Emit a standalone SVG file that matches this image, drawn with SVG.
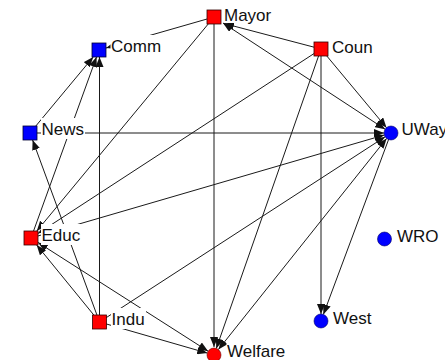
<svg xmlns="http://www.w3.org/2000/svg" width="445" height="360" viewBox="0 0 445 360">
<style>
.e{stroke:#1a1a1a;stroke-width:1;fill:none;marker-end:url(#arr)}
.b{marker-start:url(#arr)}
.r{fill:#ff0000;stroke:#300;stroke-width:0.8}
.bl{fill:#0000ff;stroke:#003;stroke-width:0.8}
.c{fill:#0000ff;stroke:#000060;stroke-width:0.6}
.cr{fill:#ff0000;stroke:#600;stroke-width:0.6}
.bg{fill:#fff}
text{font-family:"Liberation Sans",Arial,sans-serif;font-size:17px;fill:#111}
</style>
<defs>
<marker id="arr" viewBox="0 0 10 8" refX="10" refY="4" markerWidth="10" markerHeight="8" markerUnits="userSpaceOnUse" orient="auto-start-reverse">
<path d="M0,0 L10,4 L0,8 z" fill="#111"/>
</marker>
</defs>
<rect width="445" height="360" fill="#fff"/>
<g id="connectors">
<path class="e" d="M214 17 L214 347"/>
<path class="e" d="M214 17 L36.8 231"/>
<path class="e" d="M214 17 L106 48"/>
<path class="e" d="M321 49 L224 23.5"/>
<path class="e b" d="M223 23 L385.1 129.2"/>
<path class="e" d="M321 49 L386.5 127.7"/>
<path class="e" d="M321 49 L38 233.4"/>
<path class="e" d="M321 49 L216.3 348.4"/>
<path class="e" d="M321 49 L321 314"/>
<path class="e" d="M391 133 L323.4 314.4"/>
<path class="e" d="M30 133 L384 133"/>
<path class="e" d="M30 133 L93.2 57"/>
<path class="e" d="M31 238 L96.5 57"/>
<path class="e" d="M99.5 322 L99.5 57"/>
<path class="e" d="M99.5 322 L32.6 140"/>
<path class="e" d="M99.5 322 L36.7 245"/>
<path class="e" d="M99.5 322 L207.3 353.1"/>
<path class="e" d="M99.5 322 L385.1 136.8"/>
<path class="e" d="M31 238 L384.3 135"/>
<path class="e b" d="M38 242.5 L208.1 351.2"/>
<path class="e b" d="M386.6 138.5 L218.4 349.5"/>
</g>
<g id="Mayor"><rect class="bg" x="224" y="4" width="48" height="19"/><rect class="r" x="207" y="10" width="14" height="14"/><text x="224" y="21">Mayor</text></g>
<g id="Coun"><rect class="bg" x="331.5" y="36" width="42" height="21"/><rect class="r" x="314" y="42" width="14" height="14"/><text x="332" y="53">Coun</text></g>
<g id="Comm"><rect class="bg" x="110.5" y="35" width="51" height="21"/><rect class="bl" x="92" y="43" width="14" height="14"/><text x="111" y="52">Comm</text></g>
<g id="News"><rect class="bg" x="41" y="118" width="44" height="21"/><rect class="bl" x="23" y="126" width="14" height="14"/><text x="41.5" y="135">News</text></g>
<g id="Educ"><rect class="bg" x="41" y="224" width="40" height="21"/><rect class="r" x="24" y="231" width="14" height="14"/><text x="41.5" y="241">Educ</text></g>
<g id="Indu"><rect class="bg" x="111" y="308" width="35" height="21"/><rect class="r" x="92.5" y="315" width="14" height="14"/><text x="111.5" y="325">Indu</text></g>
<g id="Welfare"><rect class="bg" x="226.5" y="340" width="60" height="21"/><circle class="cr" cx="214" cy="355" r="7"/><text x="227" y="357">Welfare</text></g>
<g id="UWay"><rect class="bg" x="401" y="118" width="47" height="21"/><circle class="c" cx="391" cy="133" r="7"/><text x="401.5" y="135">UWay</text></g>
<g id="WRO"><rect class="bg" x="396.5" y="225" width="43" height="21"/><circle class="c" cx="384.5" cy="239" r="7"/><text x="397" y="242">WRO</text></g>
<g id="West"><rect class="bg" x="332.5" y="307" width="40" height="21"/><circle class="c" cx="321" cy="321" r="7"/><text x="333" y="324">West</text></g>
</svg>
